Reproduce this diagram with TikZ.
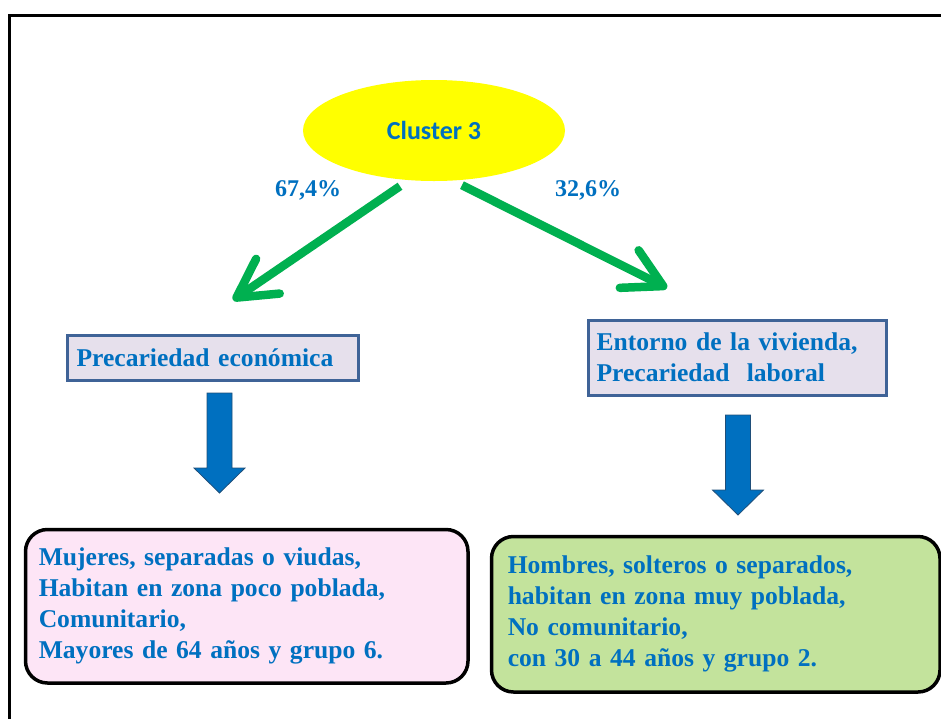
\documentclass[tikz,border=0pt]{standalone}
\usepackage{fontspec}
\setmainfont{Liberation Serif}
\newfontfamily\calibri{Carlito}
\usepackage{tikz}
\usetikzlibrary{shapes.geometric,arrows.meta}
\definecolor{textblue}{HTML}{0070C0}
\definecolor{arrowgreen}{HTML}{00B050}
\definecolor{ovalyellow}{HTML}{FFFF00}
\definecolor{boxlilac}{HTML}{E6E0EC}
\definecolor{boxedge}{HTML}{3F6397}
\definecolor{boxpink}{HTML}{FDE5F6}
\definecolor{boxgreen}{HTML}{C3E39C}
\definecolor{arrowedge}{HTML}{1F4E79}
\frenchspacing
\tikzset{
  oval/.style={ellipse, fill=ovalyellow, minimum width=262pt, minimum height=101pt,
    inner sep=0pt, text=textblue, font=\calibri\bfseries\fontsize{26}{31}\selectfont},
  factor/.style={draw=boxedge, fill=boxlilac, line width=3pt, text=textblue, align=left,
    font=\bfseries\fontsize{25.6}{31}\selectfont, inner ysep=0pt, anchor=north west},
  profile/.style={draw=black, line width=3.5pt, rounded corners=22pt, text=textblue, align=left,
    font=\bfseries\fontsize{25.6}{31}\selectfont, inner ysep=0pt, anchor=north west},
  split/.style={draw=arrowgreen, line width=8.5pt, -{Straight Barb[length=38pt, width=42pt, round]}},
  pct/.style={text=textblue, font=\bfseries\fontsize{24}{28}\selectfont},
  blockarr/.style={fill=textblue, draw=arrowedge, line width=0.8pt},
  frame/.style={draw=black, line width=3pt},
}
\begin{document}
\begin{tikzpicture}[x=1pt, y=-1pt]
  \useasboundingbox (0,0) rectangle (941,718);
  \clip (0,0) rectangle (941,718);
  \draw[frame] (9.5,15.5) rectangle (960,740);

  % top of the tree
  \node[oval] (cluster) at (434,130.5) {Cluster 3};
  \node[pct] (pctL) at (308,190) {67,4\%};
  \node[pct] (pctR) at (588,190) {32,6\%};

  % factors
  \node[factor, text width=272pt, inner xsep=9.5pt, minimum height=45pt] (precEco) at (65.5,333.5)
    {Precariedad económica};
  \node[factor, text width=281pt, inner xsep=8.5pt, minimum height=75pt] (entorno) at (586.5,318.5)
    {Entorno de la vivienda,\\Precariedad\ \ laboral};

  % profiles
  \node[profile, fill=boxpink, text width=416pt, inner xsep=13.25pt, minimum height=153.5pt] (mujeres) at (23.75,527.75)
    {Mujeres, separadas o viudas,\\Habitan en zona poco poblada,\\Comunitario,\\Mayores de 64 años y grupo 6.};
  \node[profile, fill=boxgreen, text width=416pt, inner xsep=16.25pt, minimum height=155.5pt] (hombres) at (489.75,534.75)
    {Hombres, solteros o separados,\\habitan en zona muy poblada,\\No comunitario,\\con 30 a 44 años y grupo 2.};

  % green split arrows
  \coordinate (tipL) at (233,300);
  \coordinate (tipR) at (667,288);
  \draw[split] ([xshift=-34pt,yshift=-5pt]cluster.south) -- (tipL);
  \draw[split] ([xshift=28pt,yshift=-4pt]cluster.south) -- (tipR);

  % blue block arrows
  \foreach \cx/\ty in {219.5/393, 738/415}
    \draw[blockarr] (\cx-12.5,\ty) -- (\cx+12.5,\ty) -- (\cx+12.5,\ty+75) -- (\cx+25.5,\ty+75)
      -- (\cx,\ty+100) -- (\cx-25.5,\ty+75) -- (\cx-12.5,\ty+75) -- cycle;
\end{tikzpicture}
\end{document}
